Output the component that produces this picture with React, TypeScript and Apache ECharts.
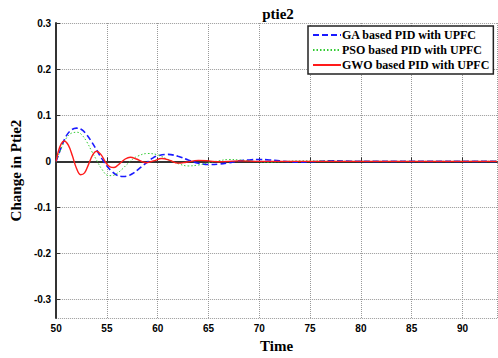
import React, { useEffect, useRef } from "react";
import * as echarts from "echarts";

const seriesNames = [
  "GA based PID with UPFC",
  "PSO based PID with UPFC",
  "GWO based PID with UPFC",
];

const gaData: [number, number][] = [
  [50, 0], [50.5, 0.03], [51, 0.055], [51.5, 0.068], [52, 0.072], [52.5, 0.069],
  [53, 0.058], [53.5, 0.042], [54, 0.024], [54.5, 0.006], [55, -0.01], [55.5, -0.022],
  [56, -0.03], [56.6, -0.033], [57, -0.032], [57.5, -0.027], [58, -0.019], [58.5, -0.01],
  [59, -0.001], [59.5, 0.007], [60, 0.012], [61, 0.015], [62, 0.011], [63, 0.003],
  [64, -0.004], [65, -0.007], [66, -0.006], [67, -0.003], [68, 0.001], [69, 0.003],
  [70, 0.004], [71, 0.003], [72, 0.001], [73, -0.001], [74, -0.002], [75, -0.001],
  [77, 0.001], [80, 0], [93.4, 0],
];

const psoData: [number, number][] = [
  [50, 0], [50.5, 0.028], [51, 0.05], [51.5, 0.061], [52.1, 0.063], [52.5, 0.058],
  [53, 0.043], [53.5, 0.022], [54, 0.002], [54.5, -0.017], [55.15, -0.031], [55.5, -0.031],
  [56, -0.026], [56.5, -0.017], [57, -0.006], [57.5, 0.004], [58, 0.011], [59, 0.017],
  [60, 0.014], [61, 0.004], [62, -0.005], [63, -0.01], [64, -0.008], [65, -0.003],
  [66, 0.001], [67, 0.004], [68, 0.003], [69, 0.001], [70, -0.001], [71, -0.002],
  [72, -0.001], [74, 0.001], [80, 0], [93.4, 0],
];

const gwoData: [number, number][] = [
  [50, 0], [50.2, 0.02], [50.5, 0.038], [50.8, 0.044], [51.2, 0.035], [51.6, 0.012],
  [52, -0.015], [52.4, -0.029], [52.8, -0.025], [53.2, -0.006], [53.6, 0.014], [53.95, 0.022],
  [54.4, 0.015], [54.9, -0.003], [55.3, -0.012], [55.7, -0.0135], [56.2, -0.006], [56.8, 0.005],
  [57.3, 0.009], [57.9, 0.005], [58.5, -0.001], [58.9, -0.003], [59.6, 0.001], [60.4, 0.006],
  [61.2, 0.002], [62, -0.004], [62.8, -0.002], [64, 0.002], [65, 0.001], [66, -0.001],
  [68, 0.001], [70, 0], [93.4, 0],
];

const xMin = 50;
const xMax = 93.4;
const yMin = -0.34;
const yMax = 0.3;

const labelFont = {
  fontFamily: "Liberation Sans, Arial, sans-serif",
  fontWeight: "bold" as const,
  fontSize: 10,
  color: "#000",
};
const serifBold = "Liberation Serif, Times New Roman, serif";

export default function App() {
  const ref = useRef<HTMLDivElement>(null);
  useEffect(() => {
    if (!ref.current) return;
    const chart = echarts.init(ref.current, undefined, { renderer: "svg" });
    chart.setOption({
      animation: false,
      backgroundColor: "#fff",
      title: {
        text: "ptie2",
        left: 273,
        textAlign: "center",
        top: 1,
        textStyle: { fontFamily: serifBold, fontWeight: "bold", fontSize: 15, color: "#000" },
      },
      legend: {
        orient: "vertical",
        left: 308,
        top: 26,
        data: seriesNames,
        itemWidth: 28,
        itemHeight: 10,
        itemGap: 3,
        padding: [3, 4, 3, 4],
        borderColor: "#222",
        borderWidth: 1.5,
        borderRadius: 0,
        backgroundColor: "#fff",
        itemStyle: { opacity: 0 },
        textStyle: { fontFamily: serifBold, fontWeight: "bold", fontSize: 12, color: "#000", padding: [0, 0, 0, -4] },
      },
      grid: { left: 50, right: 1, top: 23, bottom: 35, containLabel: false },
      xAxis: {
        type: "value",
        min: xMin,
        max: xMax,
        interval: 5,
        name: "Time",
        nameLocation: "middle",
        nameGap: 17,
        nameTextStyle: { fontFamily: serifBold, fontWeight: "bold", fontSize: 15, color: "#000" },
        axisLine: { show: true, lineStyle: { color: "#333", width: 2 } },
        axisTick: { show: true, inside: true, length: 4, lineStyle: { color: "#333" } },
        axisLabel: { ...labelFont, margin: 5, showMaxLabel: false },
        splitLine: { show: true, lineStyle: { type: "dotted", color: "#999", width: 1 } },
      },
      yAxis: {
        type: "value",
        min: yMin,
        max: yMax,
        splitNumber: 6,
        name: "Change in Ptie2",
        nameLocation: "middle",
        nameGap: 30,
        nameTextStyle: { fontFamily: serifBold, fontWeight: "bold", fontSize: 15, color: "#000" },
        axisLine: { show: true, lineStyle: { color: "#333", width: 2 } },
        axisTick: { show: true, inside: true, length: 4, lineStyle: { color: "#333" } },
        axisLabel: { ...labelFont, margin: 5, showMinLabel: false, formatter: (v: number) => (Math.abs(v) < 1e-9 ? "0" : String(Math.round(v * 10) / 10)) },
        splitLine: { show: true, lineStyle: { type: "dotted", color: "#999", width: 1 } },
      },
      series: [
        {
          name: seriesNames[0],
          type: "line",
          data: gaData,
          smooth: 0.4,
          symbol: "none",
          lineStyle: { color: "#1a1aff", width: 1.6, type: [6, 3] },
          itemStyle: { color: "#1a1aff" },
        },
        {
          name: seriesNames[1],
          type: "line",
          data: psoData,
          smooth: 0.4,
          symbol: "none",
          lineStyle: { color: "#33cc33", width: 1, type: [1.5, 2] },
          itemStyle: { color: "#33cc33" },
        },
        {
          name: seriesNames[2],
          type: "line",
          data: gwoData,
          smooth: 0.4,
          symbol: "none",
          lineStyle: { color: "#ff1a1a", width: 1.4 },
          itemStyle: { color: "#ff1a1a" },
        },
      ],
    });
    return () => chart.dispose();
  }, []);
  return <div ref={ref} style={{ width: 498, height: 358, position: "absolute", left: 0, top: 0 }} />;
}
